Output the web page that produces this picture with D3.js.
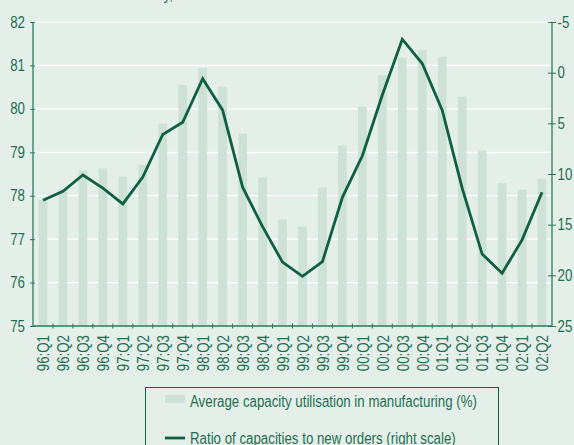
<!DOCTYPE html>
<html><head><meta charset="utf-8">
<script src="https://cdn.jsdelivr.net/npm/d3@7"></script>
<style>
html,body{margin:0;padding:0;background:#e5efea;}
svg{display:block;}
text{font-family:"Liberation Sans Narrow","Arial Narrow","Liberation Sans",sans-serif;fill:#1f6e50;}
</style></head>
<body>
<svg id="chart" width="574" height="445"></svg>
<script>
const quarters = ["96:Q1","96:Q2","96:Q3","96:Q4","97:Q1","97:Q2","97:Q3","97:Q4","98:Q1","98:Q2","98:Q3","98:Q4","99:Q1","99:Q2","99:Q3","99:Q4","00:Q1","00:Q2","00:Q3","00:Q4","01:Q1","01:Q2","01:Q3","01:Q4","02:Q1","02:Q2"];
const capacityUtilisation = [77.9,78.15,78.58,78.63,78.44,78.71,79.66,80.55,80.94,80.51,79.43,78.42,77.45,77.29,78.19,79.16,80.05,80.78,81.18,81.36,81.2,80.28,79.04,78.29,78.14,78.39];
const capacityToOrders = [12.6,11.7,10.1,11.4,12.95,10.3,6.1,4.9,0.6,3.7,11.3,15.2,18.7,20.1,18.65,12.3,8.2,2.2,-3.3,-0.9,3.7,11.4,17.9,19.8,16.5,11.8];
const leftTicks = [75,76,77,78,79,80,81,82];
const rightTicks = [-5,0,5,10,15,20,25];
const legendLabels = ["Average capacity utilisation in manufacturing (%)","Ratio of capacities to new orders (right scale)"];
const titleText = "(in % and balance of total industry,";

const C = {text:"#1f6e50", axis:"#2a7a58", line:"#0f6040", bar:"#cde1d9", grid:"#ffffff"};
const svg = d3.select("#chart");
const L = 33, R = 552, T = 22, B = 326;
const NARROW = 0.83;
function condense(sel){
  sel.each(function(){
    const w = this.getComputedTextLength();
    d3.select(this).attr("textLength", (w*NARROW).toFixed(2)).attr("lengthAdjust","spacingAndGlyphs");
  });
}

const x = d3.scaleBand().domain(quarters).range([L, R]).paddingInner(0.56).paddingOuter(0.28);
const xb = d3.scaleBand().domain(quarters).range([L, R]);
const yL = d3.scaleLinear().domain([75, 82]).range([B, T]);
const yR = d3.scaleLinear().domain([-5, 25]).range([T, B]);

// title (mostly cropped)
svg.append("text").attr("x", 173).attr("y", -0.5).attr("text-anchor","end")
  .style("font-size","16px").text(titleText).call(condense);

// gridlines
svg.append("g").selectAll("line").data(leftTicks.slice(1)).join("line")
  .attr("x1", L).attr("x2", R).attr("y1", d => yL(d)).attr("y2", d => yL(d))
  .attr("stroke", C.grid).attr("stroke-width", 1.2);

// bars
svg.append("g").selectAll("rect").data(quarters).join("rect")
  .attr("x", d => x(d)).attr("width", x.bandwidth())
  .attr("y", (d,i) => yL(capacityUtilisation[i]))
  .attr("height", (d,i) => B - yL(capacityUtilisation[i]))
  .attr("fill", C.bar);

// line
const line = d3.line().x((d,i) => xb(quarters[i]) + xb.bandwidth()/2).y(d => yR(d));
svg.append("path").datum(capacityToOrders).attr("d", line)
  .attr("fill","none").attr("stroke", C.line).attr("stroke-width", 2.8)
  .attr("stroke-linejoin","miter").attr("stroke-miterlimit", 4);

// left axis
const gl = svg.append("g").attr("transform", `translate(${L},0)`)
  .call(d3.axisLeft(yL).tickValues(leftTicks).tickSize(3).tickPadding(5).tickFormat(d => String(d)));
gl.select(".domain").remove();
gl.selectAll(".tick line").attr("x2", -3).attr("x1", 2).attr("stroke", C.axis);
gl.selectAll("text").style("font-size","16px").attr("fill", C.text).call(condense);
svg.append("line").attr("x1", L).attr("x2", L).attr("y1", T).attr("y2", B).attr("stroke", C.axis).attr("stroke-width",1.3);

// right axis
const gr = svg.append("g").attr("transform", `translate(${R},0)`)
  .call(d3.axisRight(yR).tickValues(rightTicks).tickSize(4).tickPadding(1.5).tickFormat(d => String(d)));
gr.select(".domain").remove();
gr.selectAll(".tick line").attr("x1", -4).attr("x2", 4).attr("stroke", C.axis);
gr.selectAll("text").style("font-size","16px").attr("fill", C.text).call(condense);
svg.append("line").attr("x1", R).attr("x2", R).attr("y1", T).attr("y2", B).attr("stroke", C.axis).attr("stroke-width",1.3);

// bottom axis
svg.append("line").attr("x1", L).attr("x2", R).attr("y1", B).attr("y2", B).attr("stroke", C.axis).attr("stroke-width",1.3);
svg.append("g").selectAll("line").data(quarters.slice(1)).join("line")
  .attr("x1", d => xb(d)).attr("x2", d => xb(d)).attr("y1", B-2.5).attr("y2", B+2.5)
  .attr("stroke", C.axis);
svg.append("g").selectAll("text").data(quarters).join("text")
  .attr("transform", d => `translate(${xb(d)+xb.bandwidth()/2+0.5},335) rotate(-90)`)
  .attr("text-anchor","end").attr("dy","0.36em")
  .style("font-size","16px").text(d => d).call(condense);

// legend
const lg = svg.append("g");
lg.append("rect").attr("x",145.5).attr("y",387.5).attr("width",353).attr("height",80)
  .attr("fill","none").attr("stroke", C.line).attr("stroke-width",1);
lg.append("rect").attr("x",165).attr("y",395).attr("width",20).attr("height",8).attr("fill", C.bar);
lg.append("text").attr("x",190).attr("y",407).style("font-size","16px").text(legendLabels[0]).call(condense);
lg.append("line").attr("x1",165).attr("x2",185).attr("y1",438).attr("y2",438).attr("stroke",C.line).attr("stroke-width",2.8);
lg.append("text").attr("x",190).attr("y",443.5).style("font-size","16px").text(legendLabels[1]).call(condense);
</script>
</body></html>
